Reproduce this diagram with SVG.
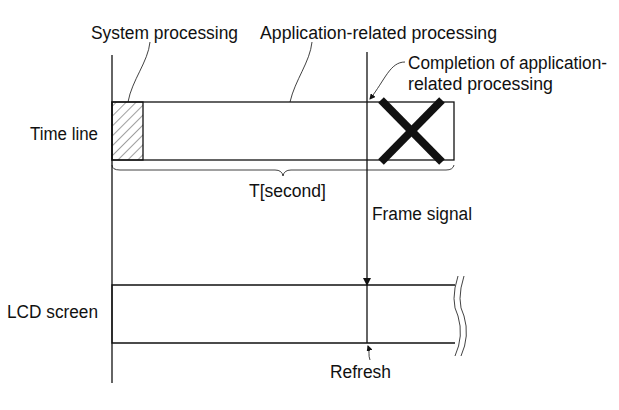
<svg xmlns="http://www.w3.org/2000/svg" width="619" height="410" viewBox="0 0 619 410">
<style>
text{font-family:"Liberation Sans",Arial,sans-serif;font-size:18px;fill:#111}
.l{stroke:#111;stroke-width:1.3;fill:none}
.t{stroke:#111;stroke-width:0.8;fill:none}
</style>
<defs>
<pattern id="h" width="7" height="7" patternUnits="userSpaceOnUse" patternTransform="rotate(45)">
<line x1="0" y1="0" x2="0" y2="7" stroke="#111" stroke-width="0.8"/>
</pattern>
<marker id="a" markerWidth="8" markerHeight="10" refX="7" refY="5" orient="auto" markerUnits="userSpaceOnUse">
<path d="M0,1 L8,5 L0,9 Z" fill="#111"/>
</marker>
<marker id="s" markerWidth="6" markerHeight="6" refX="5" refY="3" orient="auto" markerUnits="userSpaceOnUse">
<path d="M0,0 L6,3 L0,6 Z" fill="#111"/>
</marker>
</defs>
<g id="timeline">
<rect x="112" y="102" width="342" height="58" class="l"/>
<rect x="112" y="102" width="31" height="58" fill="url(#h)" stroke="#111" stroke-width="1.3"/>
<line x1="381" y1="100" x2="442" y2="162" stroke="#111" stroke-width="8"/>
<line x1="442" y1="100" x2="381" y2="162" stroke="#111" stroke-width="8"/>
<text x="30" y="140" textLength="68" lengthAdjust="spacingAndGlyphs">Time line</text>
</g>
<g id="lcd">
<path d="M455,285 H112 V343 H455" class="l" stroke-width="1.6"/>
<path d="M458,276 q-8,25 0,40 q6,20 -3,40 M464,276 q-8,25 0,40 q6,20 -3,40" class="t"/>
<text x="7" y="318" textLength="91" lengthAdjust="spacingAndGlyphs">LCD screen</text>
</g>
<g id="labels">
<text x="91" y="39" textLength="147" lengthAdjust="spacingAndGlyphs">System processing</text>
<text x="260" y="39" textLength="237" lengthAdjust="spacingAndGlyphs">Application-related processing</text>
<text x="408" y="69" textLength="199" lengthAdjust="spacingAndGlyphs">Completion of application-</text>
<text x="408" y="90" textLength="145" lengthAdjust="spacingAndGlyphs">related processing</text>
<text x="249" y="197" textLength="77" lengthAdjust="spacingAndGlyphs">T[second]</text>
<text x="372" y="220" textLength="100" lengthAdjust="spacingAndGlyphs">Frame signal</text>
<text x="330" y="378" textLength="61" lengthAdjust="spacingAndGlyphs">Refresh</text>
</g>
<g id="connectors">
<line x1="112" y1="55" x2="112" y2="383" class="l"/>
<line x1="367" y1="52" x2="367" y2="285" class="l" marker-end="url(#a)"/>
<line x1="367" y1="285" x2="367" y2="343" class="l"/>
<path d="M150,42 C148,62 132,80 128,102" class="t"/>
<path d="M312,42 C310,62 295,80 290,102" class="t"/>
<path d="M405,62 C390,62 385,80 370,99" class="t" marker-end="url(#s)"/>
<path d="M370,360 C368,355 370,352 368,346" class="t" marker-end="url(#s)"/>
<path d="M112,165 q0,5 8,5 H275 q7,0 8,6 q1,-6 8,-6 H446 q7,0 8,-5" class="t"/>
</g>
</svg>
